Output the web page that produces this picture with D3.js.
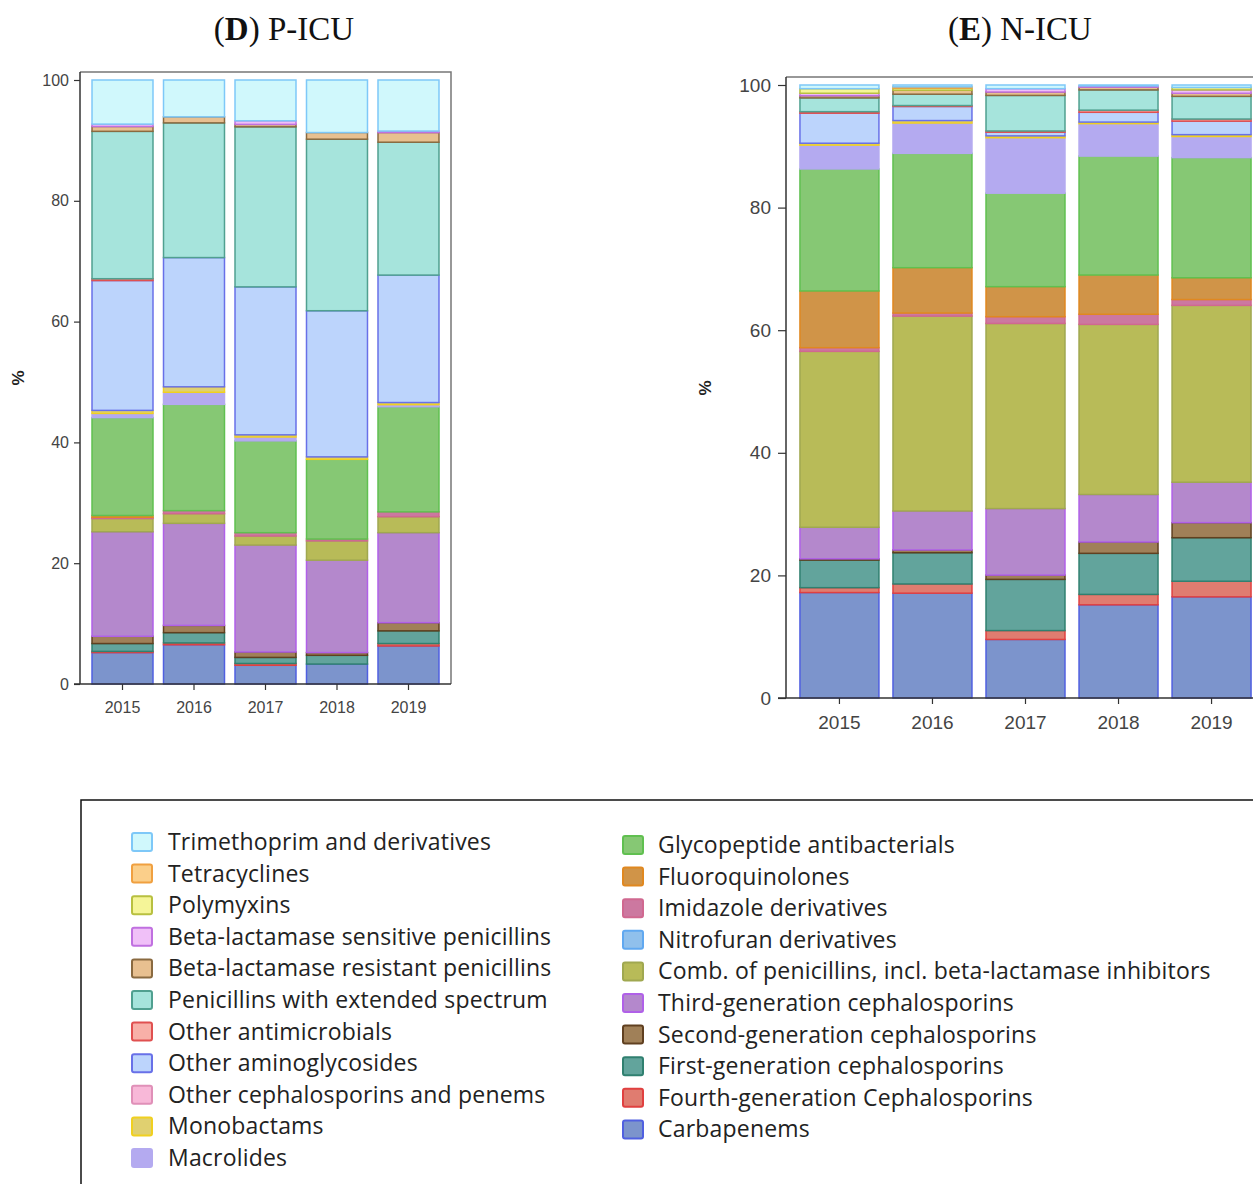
<!DOCTYPE html>
<html lang="en">
<head>
<meta charset="UTF-8">
<title>Antibiotic consumption by class, P-ICU and N-ICU</title>
<script src="https://d3js.org/d3.v7.min.js"></script>
<style>
    body { margin: 0; background: #fff; overflow: hidden; }
    svg { display: block; }
    .tick text { font-family: "Liberation Sans", Arial, sans-serif; fill: #444; }
    .title { font-family: "Liberation Serif", "Times New Roman", serif; font-size: 33px; fill: #111; }
    .ylab { font-family: "Liberation Sans", Arial, sans-serif; font-weight: bold; font-size: 17px; fill: #222; }
    .legend text { font-family: "Open Sans", Lato, sans-serif; font-size: 23px; letter-spacing: 0.2px; fill: #222; }
</style>
</head>
<body>
<svg id="chart" width="1253" height="1184"></svg>
<script>
// stack order, bottom to top
const classes = [
    "Carbapenems", "Fourth-generation Cephalosporins", "First-generation cephalosporins",
    "Second-generation cephalosporins", "Third-generation cephalosporins",
    "Comb. of penicillins, incl. beta-lactamase inhibitors", "Nitrofuran derivatives",
    "Imidazole derivatives", "Fluoroquinolones", "Glycopeptide antibacterials", "Macrolides",
    "Monobactams", "Other cephalosporins and penems", "Other aminoglycosides",
    "Other antimicrobials", "Penicillins with extended spectrum",
    "Beta-lactamase resistant penicillins", "Beta-lactamase sensitive penicillins",
    "Polymyxins", "Tetracyclines", "Trimethoprim and derivatives"
];
const fills = [
    "#7c94cc", "#e07c70", "#62a49c", "#a08058", "#b488cc", "#b8bb58", "#90c0ec",
    "#cc78a0", "#d09448", "#86c874", "#b4aaf0", "#e0d070", "#f8b8d8", "#bcd4fc",
    "#f8b0a8", "#a6e4dc", "#e8c090", "#f0c0f8", "#f5f598", "#fbcf8a", "#d0f8fc"
];
const strokes = [
    "#5060e0", "#e04040", "#308070", "#604020", "#b060e8", "#a0a850", "#60a8f0",
    "#d06890", "#e08820", "#60c050", "#b4aaf0", "#f0d020", "#e090b8", "#6870e8",
    "#e05050", "#50a090", "#8a6a40", "#c070e0", "#b8c040", "#f0a040", "#7ec8f8"
];

const years = ["2015", "2016", "2017", "2018", "2019"];
const yTicks = [0, 20, 40, 60, 80, 100];

// P-ICU, % per class (same order as classes)
const picu2015 = [5.2, 0.2, 1.3, 1.2, 17.3, 2.2, 0, 0.2, 0.3, 16.2, 0.7, 0.5, 0, 21.5, 0.3, 24.4, 0.8, 0.4, 0, 0, 7.3];
const picu2016 = [6.5, 0.3, 1.7, 1.2, 16.9, 1.6, 0, 0.5, 0, 17.6, 2.0, 0.9, 0, 21.4, 0, 22.3, 1.0, 0, 0, 0, 6.1];
const picu2017 = [3.1, 0.3, 1.0, 0.9, 17.7, 1.5, 0, 0.55, 0, 15.2, 0.65, 0.35, 0, 24.5, 0, 26.5, 0.4, 0.6, 0, 0, 6.75];
const picu2018 = [3.3, 0, 1.45, 0.45, 15.3, 3.2, 0, 0.3, 0, 13.2, 0, 0.4, 0, 24.2, 0, 28.4, 1.1, 0, 0, 0, 8.7];
const picu2019 = [6.3, 0.4, 2.1, 1.35, 14.9, 2.65, 0, 0.8, 0, 17.4, 0.35, 0.35, 0, 21.1, 0, 22.0, 1.6, 0.25, 0, 0, 8.45];

// N-ICU
const nicu2015 = [17.2, 0.8, 4.5, 0.2, 5.15, 28.7, 0, 0.6, 9.25, 19.9, 3.9, 0.3, 0, 4.9, 0.25, 2.25, 0.35, 0.4, 0.75, 0, 0.6];
const nicu2016 = [17.1, 1.5, 5.1, 0.45, 6.35, 31.8, 0, 0.5, 7.4, 18.65, 4.95, 0.4, 0, 2.3, 0.15, 1.85, 0.65, 0, 0.35, 0.2, 0.3];
const nicu2017 = [9.55, 1.45, 8.35, 0.7, 10.85, 30.2, 0, 1.1, 4.9, 15.25, 9.05, 0.3, 0, 0.6, 0.2, 5.8, 0.55, 0.55, 0, 0, 0.6];
const nicu2018 = [15.2, 1.7, 6.7, 1.85, 7.75, 27.75, 0, 1.65, 6.4, 19.4, 5.3, 0.25, 0, 1.6, 0.35, 3.3, 0.45, 0.2, 0, 0, 0.15];
const nicu2019 = [16.5, 2.55, 7.1, 2.45, 6.6, 28.85, 0, 0.95, 3.55, 19.6, 3.45, 0.3, 0, 2.2, 0.35, 3.7, 0.5, 0.55, 0.4, 0, 0.4];

const svg = d3.select("#chart");

function drawPanel(opts) {
    const rows = years.map((yr, i) => ({ year: yr, vals: opts.values[i] }));
    const stack = d3.stack()
        .keys(d3.range(classes.length))
        .value((d, k) => d.vals[k]);
    const series = stack(rows);

    const x = d3.scaleBand()
        .domain(years)
        .range([opts.left, opts.right])
        .paddingInner(opts.padIn)
        .paddingOuter(opts.padOut);
    const y = d3.scaleLinear().domain([0, 100]).range([opts.bottom, opts.y100]);

    const g = svg.append("g");

    // frame (top / right)
    g.append("path")
        .attr("d", `M${opts.left},${opts.top}H${opts.right}V${opts.bottom}`)
        .attr("fill", "none")
        .attr("stroke", "#777")
        .attr("stroke-width", 1.5);

    g.selectAll("g.layer")
        .data(series)
        .join("g")
        .attr("class", "layer")
        .attr("fill", d => fills[d.key])
        .attr("stroke", d => strokes[d.key])
        .attr("stroke-width", 1.5)
        .selectAll("rect")
        .data(d => d.filter(p => p[1] - p[0] > 0))
        .join("rect")
        .attr("x", d => x(d.data.year))
        .attr("width", x.bandwidth())
        .attr("y", d => y(d[1]))
        .attr("height", d => y(d[0]) - y(d[1]));

    const ya = g.append("g")
        .attr("transform", `translate(${opts.left},0)`)
        .call(d3.axisLeft(y).tickValues(yTicks).tickSize(opts.tick).tickPadding(opts.yPad));
    ya.select(".domain").attr("d", `M0,${opts.top}V${opts.bottom}`);

    const xa = g.append("g")
        .attr("transform", `translate(0,${opts.bottom})`)
        .call(d3.axisBottom(x).tickSize(6).tickPadding(opts.xPad));
    xa.select(".domain").attr("d", `M${opts.left - opts.tick},0H${opts.right}`);

    g.selectAll(".domain").attr("stroke", "#333").attr("stroke-width", 1.5);
    g.selectAll(".tick line").attr("stroke", "#333").attr("stroke-width", 1.2);
    g.selectAll(".tick text").style("font-size", opts.font + "px");

    g.append("text")
        .attr("class", "ylab")
        .attr("transform", `translate(${opts.ylabX},${opts.ylabY}) rotate(-90)`)
        .attr("text-anchor", "middle")
        .text("%");

    const t = g.append("text")
        .attr("class", "title")
        .attr("x", opts.titleX)
        .attr("y", 40)
        .attr("text-anchor", "middle");
    t.append("tspan").text("(");
    t.append("tspan").attr("font-weight", "bold").text(opts.letter);
    t.append("tspan").text(") " + opts.name);
}

drawPanel({
    values: [picu2015, picu2016, picu2017, picu2018, picu2019],
    left: 80, right: 451, top: 72, bottom: 684, y100: 80,
    padIn: 0.147, padOut: 0.168, font: 16, xPad: 12, tick: 6, yPad: 5,
    ylabX: 24, ylabY: 378, titleX: 284, letter: "D", name: "P-ICU"
});

drawPanel({
    values: [nicu2015, nicu2016, nicu2017, nicu2018, nicu2019],
    left: 786, right: 1265, top: 77, bottom: 698, y100: 85,
    padIn: 0.151, padOut: 0.15, font: 19, xPad: 12, tick: 8, yPad: 7,
    ylabX: 711, ylabY: 388, titleX: 1020, letter: "E", name: "N-ICU"
});

// legend
const legendLeft = d3.range(classes.length - 1, 9, -1);   // Trimethoprim ... Macrolides
const legendRight = d3.range(9, -1, -1);                  // Glycopeptide ... Carbapenems

const lg = svg.append("g").attr("class", "legend");
lg.append("rect")
    .attr("x", 81).attr("y", 800)
    .attr("width", 1250).attr("height", 450)
    .attr("fill", "none")
    .attr("stroke", "#111")
    .attr("stroke-width", 1.5);

const rowY = d3.scaleLinear().domain([0, 1]).range([0, 31.6]);

function legendColumn(items, sx, tx, y0) {
    const col = lg.append("g");
    const item = col.selectAll("g")
        .data(items)
        .join("g")
        .attr("transform", (d, i) => `translate(0,${y0 + rowY(i)})`);
    item.append("rect")
        .attr("x", sx).attr("y", -9)
        .attr("width", 20).attr("height", 18)
        .attr("rx", 2)
        .attr("fill", d => fills[d])
        .attr("stroke", d => strokes[d])
        .attr("stroke-width", 2);
    item.append("text")
        .attr("x", tx).attr("y", 8)
        .text(d => classes[d]);
}

legendColumn(legendLeft, 132, 168, 842);
legendColumn(legendRight, 623, 658, 845);
</script>
</body>
</html>
